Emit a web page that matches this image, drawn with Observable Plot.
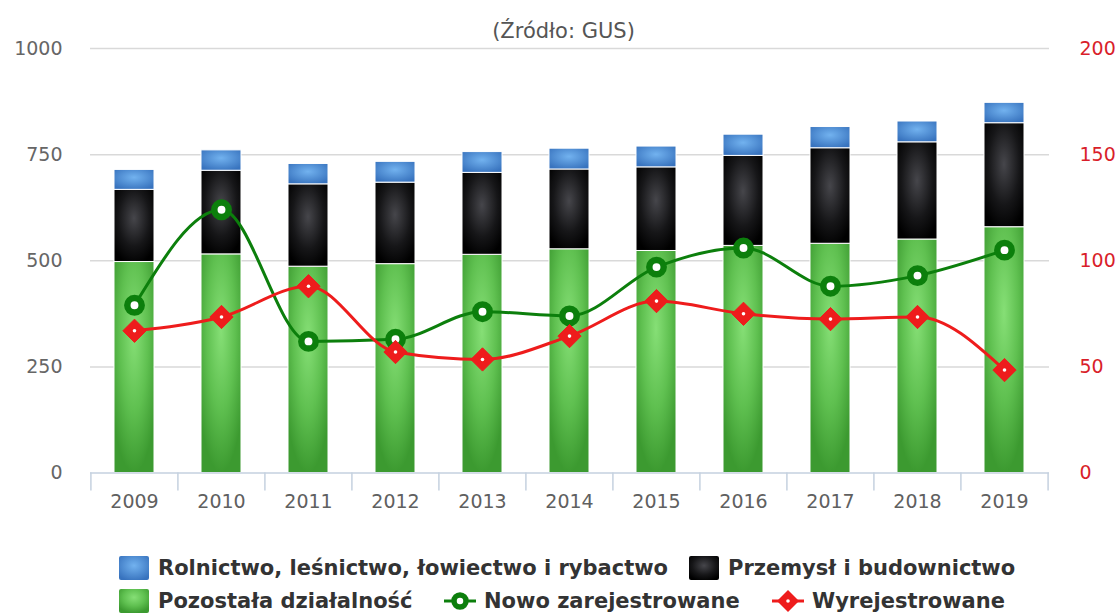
<!DOCTYPE html>
<html><head><meta charset="utf-8">
<script src="https://cdn.jsdelivr.net/npm/d3@7"></script>
<script src="https://cdn.jsdelivr.net/npm/@observablehq/plot@0.6"></script>
<style>
body{margin:0;background:#fff;font-family:"DejaVu Sans",sans-serif;}
#wrap{position:relative;width:1119px;height:615px;overflow:hidden;background:#fff;}
#chart{position:absolute;left:0;top:0;}
#title{position:absolute;top:21px;left:0;width:1127px;text-align:center;font-size:21px;line-height:21px;color:#555;}
.li{position:absolute;display:flex;align-items:center;height:30px;font-weight:bold;font-size:21px;color:#333;white-space:nowrap;}
.li svg{margin-right:8px;flex:none;}
</style></head><body>
<div id="wrap"><div id="chart"></div><div id="title">(Źródło: GUS)</div><div id="legend"></div></div>
<script>
// ---- data ----
const years = ["2009","2010","2011","2012","2013","2014","2015","2016","2017","2018","2019"];
const pozostala = [497, 515, 486, 492, 514, 527, 523, 535, 540, 550, 579];
const przemysl  = [170, 197, 194, 192, 193, 188, 197, 212, 225, 229, 245];
const rolnictwo = [47, 48, 48, 49, 49, 49, 49, 50, 50, 49, 48];
const nowo  = [79, 124, 62, 63, 76, 74, 97, 106, 88, 93, 105];
const wyrej = [67, 73.5, 88, 57, 53.5, 64.5, 81, 75, 72.5, 73.5, 48.5];
const leftTicks = [0, 250, 500, 750, 1000];
const rightTicks = [0, 50, 100, 150, 200];
const seriesNames = ["Rolnictwo, leśnictwo, łowiectwo i rybactwo", "Przemysł i budownictwo", "Pozostała działalność", "Nowo zarejestrowane", "Wyrejestrowane"];
const titleText = "(Źródło: GUS)";

// ---- layout ----
const W = 1119, H = 520, mT = 48, mB = 47.5, mL = 90, mR = 70;
const leftMax = leftTicks[leftTicks.length-1], rightMax = rightTicks[rightTicks.length-1];
const k = leftMax / rightMax;
const step = (W - mL - mR) / years.length;
const pxPerUnit = (H - mT - mB) / leftMax;
const tickLen = 18 / pxPerUnit;

const rows = years.map((y, i) => ({
  year: y,
  g: pozostala[i],
  b: pozostala[i] + przemysl[i],
  t: pozostala[i] + przemysl[i] + rolnictwo[i],
  nowo: nowo[i] * k,
  wyrej: wyrej[i] * k
}));

const GREEN = "#0c7f0c", RED = "#ee1c1c", AXIS = "#c5d1df";

const chart = Plot.plot({
  width: W, height: H, marginTop: mT, marginBottom: mB, marginLeft: mL, marginRight: mR,
  style: {fontFamily: "'DejaVu Sans', sans-serif", fontSize: "19px", color: "#666", background: "transparent", overflow: "visible"},
  x: {type: "band", domain: years, paddingInner: 0.54, paddingOuter: 0.27},
  y: {domain: [0, leftMax]},
  marks: [
    Plot.gridY(leftTicks.filter(d => d > 0), {stroke: "#d9d9d9", strokeOpacity: 1, strokeWidth: 1.5}),
    Plot.barY(rows, {x: "year", y1: () => 0, y2: "g", fill: "url(#gGreen)", stroke: "white", strokeWidth: 1}),
    Plot.barY(rows, {x: "year", y1: "g", y2: "b", fill: "url(#gBlack)", stroke: "white", strokeWidth: 1}),
    Plot.barY(rows, {x: "year", y1: "b", y2: "t", fill: "url(#gBlue)", stroke: "white", strokeWidth: 1}),
    Plot.ruleY([0], {stroke: AXIS, strokeWidth: 1.5}),
    Plot.ruleX(years, {x: d => d, y1: () => 0, y2: () => -tickLen, dx: -step/2, stroke: AXIS, strokeWidth: 1.5}),
    Plot.ruleX(years.slice(-1), {x: d => d, y1: () => 0, y2: () => -tickLen, dx: step/2, stroke: AXIS, strokeWidth: 1.5}),
    Plot.line(rows, {x: "year", y: "nowo", stroke: GREEN, strokeWidth: 3, curve: "monotone-x"}),
    Plot.dot(rows, {x: "year", y: "nowo", r: 7.2, fill: "white", stroke: GREEN, strokeWidth: 6.5}),
    Plot.line(rows, {x: "year", y: "wyrej", stroke: RED, strokeWidth: 3, curve: "monotone-x"}),
    Plot.dot(rows, {x: "year", y: "wyrej", r: 10.5, symbol: "diamond2", fill: RED, stroke: RED, strokeWidth: 1}),
    Plot.dot(rows, {x: "year", y: "wyrej", r: 1.8, fill: "white"}),
    Plot.axisX({tickSize: 0, tickPadding: 21, fontSize: 19, fill: "#606060", label: null}),
    Plot.axisY({anchor: "left", ticks: leftTicks, tickFormat: d => String(d), tickSize: 0, tickPadding: 28, fill: "#666", fontSize: 19, label: null}),
    Plot.axisY({anchor: "right", ticks: rightTicks.map(d => d * k), tickFormat: d => String(d / k), tickSize: 0, tickPadding: 30, fill: "#d91e2a", fontSize: 19, label: null})
  ]
});

const defs = `<defs>
<radialGradient id="gGreen" cx="50%" cy="35%" r="65%"><stop offset="0" stop-color="#86df76"/><stop offset="0.55" stop-color="#5fc050"/><stop offset="1" stop-color="#3c9a30"/></radialGradient>
<radialGradient id="gBlack" cx="50%" cy="40%" r="65%"><stop offset="0" stop-color="#46464b"/><stop offset="0.6" stop-color="#161618"/><stop offset="1" stop-color="#000"/></radialGradient>
<radialGradient id="gBlue" cx="50%" cy="40%" r="65%"><stop offset="0" stop-color="#72b2ef"/><stop offset="1" stop-color="#3873be"/></radialGradient>
</defs>`;
chart.insertAdjacentHTML("afterbegin", defs);
document.getElementById("chart").appendChild(chart);
document.getElementById("title").textContent = titleText;

// ---- legend ----
const sq = id => `<svg width="32" height="30"><rect x="1" y="3" width="30" height="24" rx="2" fill="url(#${id})"/></svg>`;
const circ = `<svg width="32" height="30"><line x1="0" x2="32" y1="15" y2="15" stroke="${GREEN}" stroke-width="3"/><circle cx="16" cy="15" r="6" fill="white" stroke="${GREEN}" stroke-width="5.5"/></svg>`;
const dia = `<svg width="32" height="30"><line x1="0" x2="32" y1="15" y2="15" stroke="${RED}" stroke-width="3"/><polygon points="16,4 27,15 16,26 5,15" fill="${RED}"/><circle cx="16" cy="15" r="1.8" fill="white"/></svg>`;
const items = [
  {sym: sq("gBlue"), name: seriesNames[0], left: 118, top: 553},
  {sym: sq("gBlack"), name: seriesNames[1], left: 688, top: 553},
  {sym: sq("gGreen"), name: seriesNames[2], left: 118, top: 586},
  {sym: circ, name: seriesNames[3], left: 444, top: 586},
  {sym: dia, name: seriesNames[4], left: 772, top: 586}
];
const lg = document.getElementById("legend");
items.forEach(it => {
  const d = document.createElement("div");
  d.className = "li";
  d.style.left = it.left + "px";
  d.style.top = it.top + "px";
  d.innerHTML = it.sym + "<span></span>";
  d.querySelector("span").textContent = it.name;
  lg.appendChild(d);
});
</script>
</body></html>
